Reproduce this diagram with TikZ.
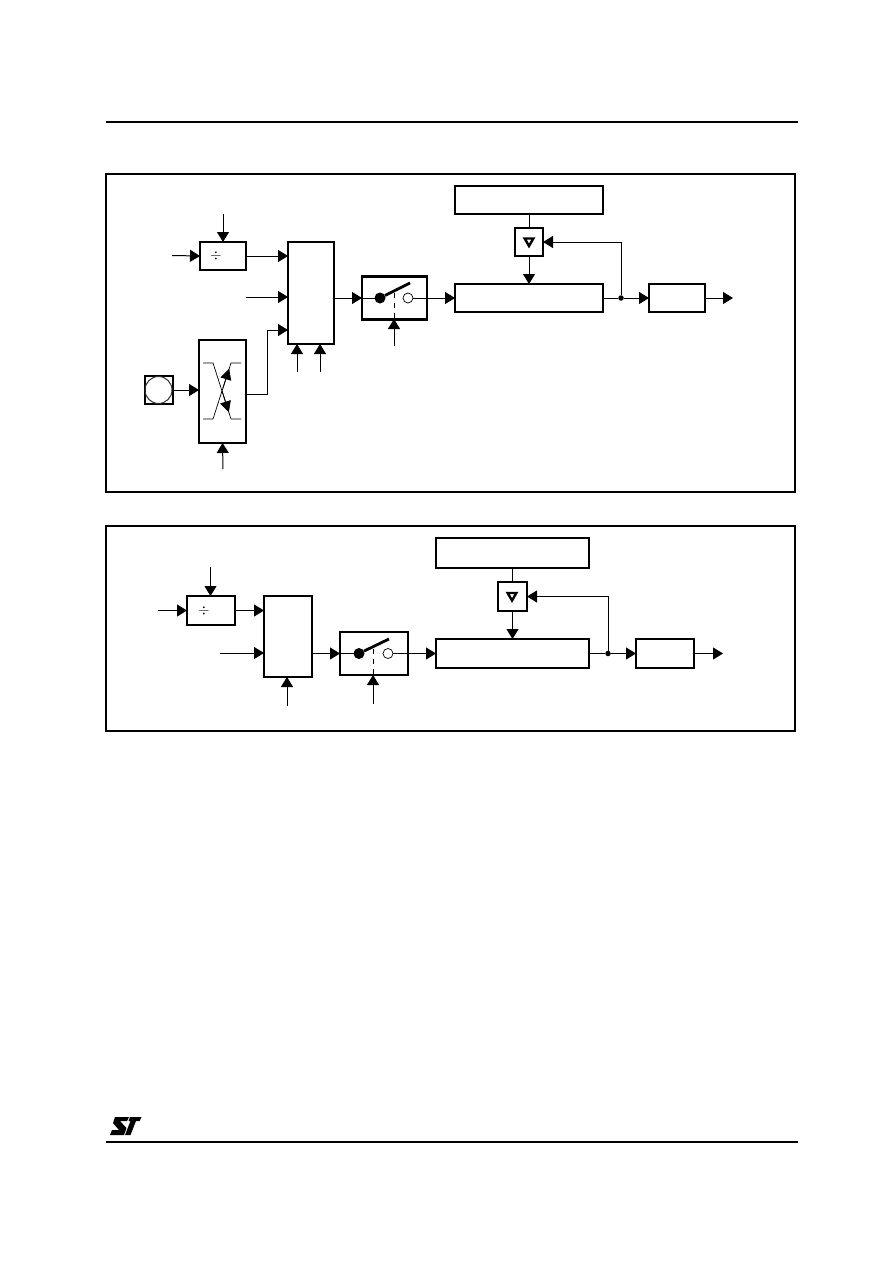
\documentclass[tikz,border=0pt]{standalone}
\usepackage{xcolor}
\usetikzlibrary{shapes.geometric,arrows.meta,positioning,calc}
\tikzset{
  block/.style={rectangle,draw=black,line width=2.6pt,fill=white,outer sep=0pt,inner sep=0pt},
  frame/.style={draw=black,line width=2pt},
  sig/.style={-{Triangle[length=10pt,width=12pt]},line width=1pt,draw=black},
  wire/.style={line width=1pt,draw=black},
  mini/.style={-{Triangle[length=11pt,width=11pt]},line width=0.8pt,draw=black},
  ball/.style={circle,fill=black,minimum size=11pt,inner sep=0pt,outer sep=0pt},
  contact/.style={circle,draw=black,line width=0.7pt,fill=white,minimum size=10pt,inner sep=0pt,outer sep=0pt},
  junction/.style={circle,fill=black,minimum size=5.5pt,inner sep=0pt,outer sep=0pt},
  follower/.style={regular polygon,regular polygon sides=3,shape border rotate=180,draw=black,
                   line width=2.4pt,minimum size=10pt,inner sep=0pt},
  blade/.style={line width=2.8pt,draw=black},
  gate/.style={line width=1pt,draw=black,dash pattern=on 5pt off 5pt},
}

\begin{document}
\begin{tikzpicture}[x=1pt,y=-1pt]
  \useasboundingbox (0,0) rectangle (892,1263);
  \draw[line width=1.8pt] (106,122) -- (798,122);
  \draw[line width=1.8pt] (106,1142) -- (798,1142);
  \draw[frame] (106,173.5) rectangle (795,491.5);
  \draw[frame] (106,526) rectangle (795,731);

  % upper figure
  \node[block,minimum width=46pt,minimum height=28pt] (div) at (223,256) {};
  \node[font=\Large] (divsign) at (216,255.5) {$\div$};
  \node[block,minimum width=46pt,minimum height=102pt] (mux) at (311,293) {};
  \node[block,minimum width=47pt,minimum height=103pt] (pll) at (222.5,391.5) {};
  \node[block,line width=2pt,minimum width=28pt,minimum height=28pt] (osc) at (158.5,390) {};
  \node[circle,draw=black!80,line width=1pt,minimum size=27pt,inner sep=0pt] (osccore) at (158.5,390) {};
  \node[block,minimum width=65pt,minimum height=43pt] (switch) at (394.5,298) {};
  \node[block,minimum width=148pt,minimum height=28pt,right=28pt of switch] (reg) {};
  \node[block,minimum width=56pt,minimum height=28pt,right=46pt of reg] (out) {};
  \node[block,minimum width=28pt,minimum height=28pt,above=28pt of reg] (buf) {};
  \node[block,minimum width=148pt,minimum height=28pt,above=14pt of buf] (ref) {};
  \node[follower] (buftri) at (529,241) {};
  \node[junction] (tap) at (621,298) {};
  \node[ball] (pivot) at (380,298) {};
  \node[contact] (pole) at (408,298) {};

  \coordinate (divtop) at (223,214);
  \coordinate (divleft) at (172,255.5);
  \coordinate (muxleft) at (246,297);
  \coordinate (muxlo) at (288,330);
  \coordinate (muxa) at (297,372);
  \coordinate (muxb) at (320,372);
  \coordinate (swgate) at (394,346);
  \coordinate (swtop) at (394,293);
  \coordinate (swlow) at (394,319);
  \coordinate (bladeend) at (410,283);
  \coordinate (pllgate) at (223,469);
  \coordinate (outend) at (733,298);
  \coordinate (xa) at (203,363);
  \coordinate (xb) at (213,363);
  \coordinate (xc) at (231,419);
  \coordinate (xd) at (241,419);
  \coordinate (xe) at (241,363);
  \coordinate (xf) at (231,363);
  \coordinate (xg) at (213,419);
  \coordinate (xh) at (203,419);

  \draw[sig] (divtop) -- (div.north);
  \draw[sig] (divleft) -- (div.west);
  \draw[sig] (div.east) -- (div.east -| mux.west);
  \draw[sig] (muxleft) -- (muxleft -| mux.west);
  \draw[sig] (pll.east |- 0,394.5) -| (267,330) -- (muxlo);
  \draw[sig] (muxa) -- (muxa |- mux.south);
  \draw[sig] (muxb) -- (muxb |- mux.south);
  \draw[sig] (osc.east) -- (osc.east -| pll.west);
  \draw[sig] (pllgate) -- (pll.south);
  \draw[sig] (mux.east |- switch.west) -- (switch.west);
  \draw[wire] (switch.west) -- (pivot);
  \draw[blade] (pivot) -- (bladeend);
  \draw[gate] (swtop) -- (swlow);
  \draw[sig] (swgate) -- (swlow);
  \draw[sig] (pole.east) -- (reg.west);
  \draw[wire] (ref.south) -- (buf.north);
  \draw[sig] (buf.south) -- (reg.north);
  \draw[wire] (reg.east) -- (tap);
  \draw[sig] (tap) -- (out.west);
  \draw[sig] (tap) |- (buf.east);
  \draw[sig] (out.east) -- (outend);
  \draw[line width=0.7pt] (xa) -- (xb) -- (xc) -- (xd);
  \draw[line width=0.7pt] (xe) -- (xf) -- (xg) -- (xh);
  \draw[mini] ($(xf)!0.45!(xg)$) -- ($(xf)!0.1!(xg)$);
  \draw[mini] ($(xb)!0.5!(xc)$) -- ($(xb)!0.88!(xc)$);

  % lower figure
  \node[block,minimum width=48pt,minimum height=29pt] (divb) at (211,610.5) {};
  \node[font=\Large] (divbsign) at (204,610.5) {$\div$};
  \node[block,minimum width=48pt,minimum height=81pt] (muxb1) at (288,636.5) {};
  \node[block,minimum width=68pt,minimum height=43pt] (switchb) at (374,653.5) {};
  \node[block,minimum width=153pt,minimum height=29pt,right=28pt of switchb] (regb) {};
  \node[block,minimum width=58pt,minimum height=29pt,right=47pt of regb] (outb) {};
  \node[block,minimum width=29pt,minimum height=29pt,above=28pt of regb] (bufb) {};
  \node[block,minimum width=153pt,minimum height=30pt,above=14pt of bufb] (refb) {};
  \node[follower] (buftrib) at (512,595.5) {};
  \node[junction] (tapb) at (608,653.5) {};
  \node[ball] (pivotb) at (359,653.5) {};
  \node[contact] (poleb) at (388,653.5) {};

  \coordinate (divbtop) at (210.5,567);
  \coordinate (divbleft) at (158,610.5);
  \coordinate (muxbleft) at (220,653);
  \coordinate (muxbgate) at (287,706);
  \coordinate (swbgate) at (373,704);
  \coordinate (swbtop) at (373,649);
  \coordinate (swblow) at (373,675);
  \coordinate (bladebend) at (389,639);
  \coordinate (outbend) at (723,653.5);

  \draw[sig] (divbtop) -- (divbtop |- divb.north);
  \draw[sig] (divbleft) -- (divb.west);
  \draw[sig] (divb.east) -- (divb.east -| muxb1.west);
  \draw[sig] (muxbleft) -- (muxbleft -| muxb1.west);
  \draw[sig] (muxbgate) -- (muxbgate |- muxb1.south);
  \draw[sig] (muxb1.east |- switchb.west) -- (switchb.west);
  \draw[wire] (switchb.west) -- (pivotb);
  \draw[blade] (pivotb) -- (bladebend);
  \draw[gate] (swbtop) -- (swblow);
  \draw[sig] (swbgate) -- (swblow);
  \draw[sig] (poleb.east) -- (regb.west);
  \draw[wire] (refb.south) -- (bufb.north);
  \draw[sig] (bufb.south) -- (regb.north);
  \draw[wire] (regb.east) -- (tapb);
  \draw[sig] (tapb) -- (outb.west);
  \draw[sig] (tapb) |- (bufb.east);
  \draw[sig] (outb.east) -- (outbend);

  % logo
  \fill (115,1117) -- (129,1117) -- (127,1121) -- (120,1121) -- (126.5,1128) -- (124,1135) -- (110,1135) -- (112,1130) -- (119,1130) -- (113,1123) -- cycle;
  \fill (130,1117) -- (141.5,1117) -- (139.5,1121) -- (136,1121) -- (130.5,1135) -- (125,1135) -- (130.5,1121) -- (128.5,1121) -- cycle;
\end{tikzpicture}
\end{document}
